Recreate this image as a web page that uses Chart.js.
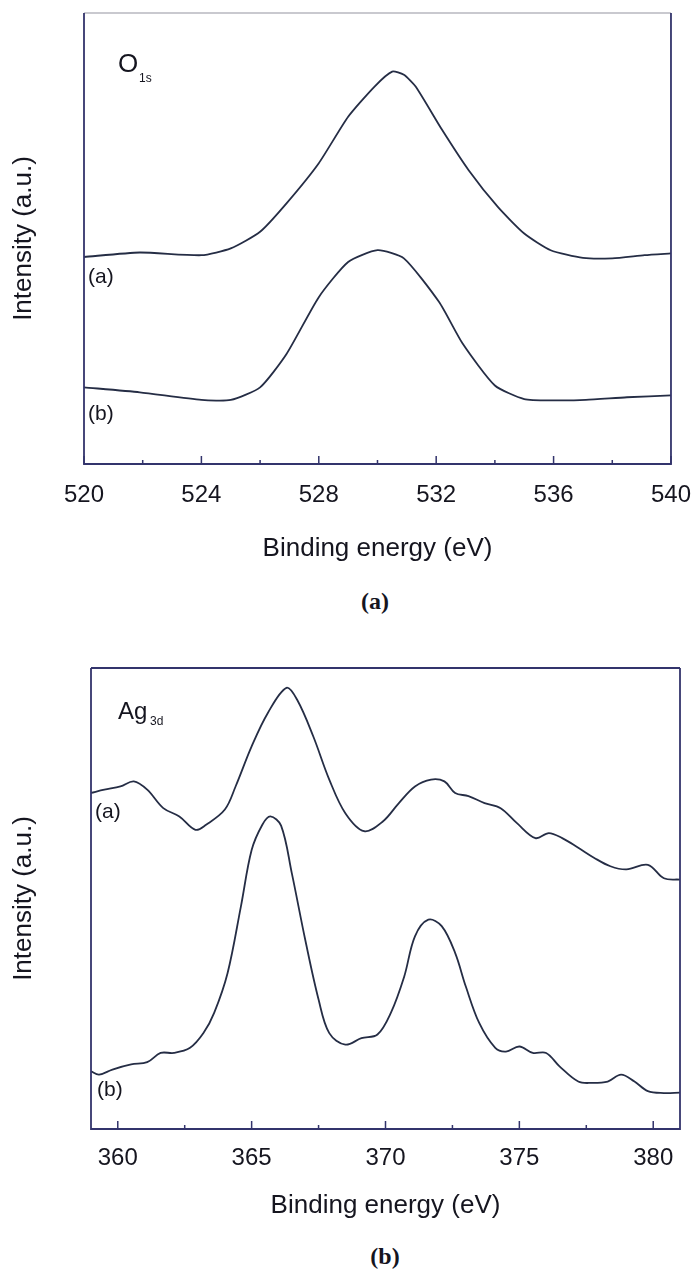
<!DOCTYPE html>
<html>
<head>
<meta charset="utf-8">
<title>XPS spectra</title>
<script src="https://cdn.jsdelivr.net/npm/chart.js@4.4.1/dist/chart.umd.min.js"></script>
<style>
  body { margin: 0; background: #fff; }
  #page { position: relative; width: 700px; height: 1274px; overflow: hidden;
          font-family: "Liberation Sans", Arial, sans-serif; color: #15151f; }
  .box { position: absolute; left: 0; width: 700px; }
  .lbl { position: absolute; line-height: 1; white-space: nowrap; }
  .cap { position: absolute; line-height: 1; transform: translateX(-50%);
         font-family: "Liberation Serif", "Times New Roman", serif; font-weight: bold; font-size: 24px; }
</style>
</head>
<body>
<div id="page">
  <div class="box" style="top:0;height:580px"><canvas id="o1sChart"></canvas></div>
  <div class="box" style="top:640px;height:600px"><canvas id="ag3dChart"></canvas></div>

  <span class="lbl" style="left:118px;top:50px;font-size:26px">O</span>
  <span class="lbl" style="left:139px;top:72px;font-size:12px">1s</span>
  <span class="lbl" style="left:88px;top:265px;font-size:21px">(a)</span>
  <span class="lbl" style="left:88px;top:402px;font-size:21px">(b)</span>
  <span class="cap" style="left:375px;top:589px">(a)</span>

  <span class="lbl" style="left:118px;top:699px;font-size:24px">Ag</span>
  <span class="lbl" style="left:150px;top:715px;font-size:12px">3d</span>
  <span class="lbl" style="left:95px;top:800px;font-size:21px">(a)</span>
  <span class="lbl" style="left:97px;top:1078px;font-size:21px">(b)</span>
  <span class="cap" style="left:385px;top:1244px">(b)</span>
</div>

<script>
// O 1s panel
const o1sEnergyA = [520, 521.9, 524, 525, 526, 526.9, 528, 529, 529.9, 530.5, 530.9, 531.3, 532.2, 533.1, 534.1, 535, 535.9, 537, 538, 539.1, 540];
const o1sCurveA = [45.9, 46.9, 46.3, 47.8, 51.5, 57.8, 66.7, 77.0, 83.7, 87.0, 86.3, 83.7, 74.1, 65.2, 57.0, 51.1, 47.4, 45.7, 45.6, 46.3, 46.7];
const o1sEnergyB = [520, 521.9, 524, 525, 526, 526.9, 528, 529, 530, 530.9, 532.1, 532.9, 534, 535, 536, 537.1, 538.5, 540];
const o1sCurveB = [17.0, 15.9, 14.2, 14.2, 17.0, 24.4, 37.0, 44.8, 47.4, 45.6, 35.9, 26.7, 17.4, 14.4, 14.1, 14.2, 14.8, 15.2];
const o1sMajorTicks = [520, 524, 528, 532, 536, 540];
const o1sMinorTicks = [522, 526, 530, 534, 538];

// Ag 3d panel
const agEnergyA = [359, 359.5, 360.1, 360.6, 361.1, 361.7, 362.3, 362.9, 363.3, 364, 364.4, 365, 365.6, 366.3, 366.7, 367.3, 367.9, 368.5, 369.2, 369.9, 370.5, 371.1, 371.7, 372.2, 372.6, 373.1, 373.7, 374.3, 374.9, 375.6, 376.1, 376.6, 377.2, 377.8, 378.4, 379, 379.8, 380.4, 381];
const agCurveA = [72.9, 73.6, 74.3, 75.4, 73.6, 69.6, 67.8, 64.9, 66.0, 69.3, 74.3, 83.0, 90.2, 95.7, 93.1, 85.2, 75.8, 68.5, 64.6, 66.7, 70.7, 74.3, 75.8, 75.4, 72.9, 72.2, 70.7, 69.6, 66.4, 63.1, 64.2, 63.1, 61.0, 58.8, 57.0, 56.3, 57.3, 54.4, 54.1];
const agEnergyB = [359, 359.3, 359.8, 360.5, 361.1, 361.6, 362.1, 362.7, 363.2, 363.6, 364.1, 364.6, 365, 365.4, 365.7, 366.1, 366.5, 367, 367.5, 367.9, 368.5, 369.1, 369.7, 370.2, 370.7, 371.1, 371.6, 372.1, 372.6, 373, 373.5, 374.1, 374.5, 375, 375.5, 376, 376.5, 377.2, 377.7, 378.3, 378.8, 379.3, 379.8, 380.4, 381];
const agCurveB = [12.5, 11.8, 12.9, 14.0, 14.5, 16.5, 16.5, 17.6, 20.8, 25.2, 33.8, 48.3, 60.5, 66.0, 67.8, 65.8, 55.5, 41.1, 28.1, 20.8, 18.3, 19.7, 20.5, 25.2, 33.1, 41.8, 45.4, 44.0, 38.2, 30.9, 23.0, 17.6, 16.8, 17.9, 16.5, 16.5, 13.6, 10.3, 10.0, 10.3, 11.8, 10.3, 8.2, 7.8, 7.9];
const agMajorTicks = [360, 365, 370, 375, 380];
const agMinorTicks = [362.5, 367.5, 372.5, 377.5];

const FONT = "'Liberation Sans', Arial, sans-serif";
const INK = "#15151f";
const LINE = "#252d45";
const FRAME = "#33346c";

function points(xs, ys) {
  return xs.map((x, i) => ({ x: x, y: ys[i] }));
}

// frame box + inward tick marks on the bottom axis
const framePlugin = {
  id: "frame",
  afterDatasetsDraw(chart, args, opts) {
    const { ctx, chartArea: a } = chart;
    const x = chart.scales.x;
    ctx.save();
    ctx.lineWidth = 1.8;
    ctx.strokeStyle = opts.topColor;
    ctx.beginPath();
    ctx.moveTo(a.left, a.top);
    ctx.lineTo(a.right, a.top);
    ctx.stroke();
    ctx.strokeStyle = FRAME;
    ctx.beginPath();
    ctx.moveTo(a.left, a.top);
    ctx.lineTo(a.left, a.bottom);
    ctx.lineTo(a.right, a.bottom);
    ctx.lineTo(a.right, a.top);
    ctx.stroke();
    ctx.lineWidth = 1.5;
    ctx.beginPath();
    opts.major.forEach((v) => {
      const px = x.getPixelForValue(v);
      ctx.moveTo(px, a.bottom);
      ctx.lineTo(px, a.bottom - 8);
    });
    opts.minor.forEach((v) => {
      const px = x.getPixelForValue(v);
      ctx.moveTo(px, a.bottom);
      ctx.lineTo(px, a.bottom - 4);
    });
    ctx.stroke();
    ctx.restore();
  }
};

function makeChart(id, cfg) {
  return new Chart(document.getElementById(id), {
    type: "line",
    data: {
      datasets: cfg.series.map((s) => ({
        data: s,
        borderColor: LINE,
        borderWidth: 1.8,
        pointRadius: 0,
        tension: cfg.tension,
        fill: false
      }))
    },
    options: {
      responsive: true,
      maintainAspectRatio: false,
      animation: false,
      events: [],
      layout: { padding: { top: cfg.top, right: cfg.right, left: 0, bottom: 0 } },
      plugins: {
        legend: { display: false },
        tooltip: { enabled: false },
        frame: { major: cfg.major, minor: cfg.minor, topColor: cfg.topColor }
      },
      scales: {
        x: {
          type: "linear",
          min: cfg.min,
          max: cfg.max,
          afterBuildTicks: (s) => { s.ticks = cfg.major.map((v) => ({ value: v })); },
          afterFit: (s) => { s.height = cfg.xHeight; },
          grid: { display: false },
          border: { display: false },
          ticks: { color: INK, font: { family: FONT, size: 24 }, padding: cfg.tickPad, maxRotation: 0, autoSkip: false },
          title: {
            display: true,
            text: "Binding energy (eV)",
            color: INK,
            font: { family: FONT, size: 26 },
            padding: { top: 0, bottom: cfg.titlePad }
          }
        },
        y: {
          min: 0,
          max: 100,
          afterFit: (s) => { s.width = cfg.yWidth; },
          grid: { display: false },
          border: { display: false },
          ticks: { display: false },
          title: {
            display: true,
            text: "Intensity (a.u.)",
            color: INK,
            font: { family: FONT, size: 26 },
            padding: { top: 8, bottom: 0 }
          }
        }
      }
    },
    plugins: [framePlugin]
  });
}

document.addEventListener("DOMContentLoaded", () => {
  makeChart("o1sChart", {
    series: [points(o1sEnergyA, o1sCurveA), points(o1sEnergyB, o1sCurveB)],
    tension: 0.2,
    min: 520, max: 540,
    major: o1sMajorTicks, minor: o1sMinorTicks,
    top: 13, right: 23, yWidth: 84, xHeight: 116,
    tickPad: 9, titlePad: 16,
    topColor: "#c9c9cf"
  });

  makeChart("ag3dChart", {
    series: [points(agEnergyA, agCurveA), points(agEnergyB, agCurveB)],
    tension: 0.35,
    min: 359, max: 381,
    major: agMajorTicks, minor: agMinorTicks,
    top: 28, right: 20, yWidth: 91, xHeight: 111,
    tickPad: 7, titlePad: 19,
    topColor: FRAME
  });
});
</script>
</body>
</html>
